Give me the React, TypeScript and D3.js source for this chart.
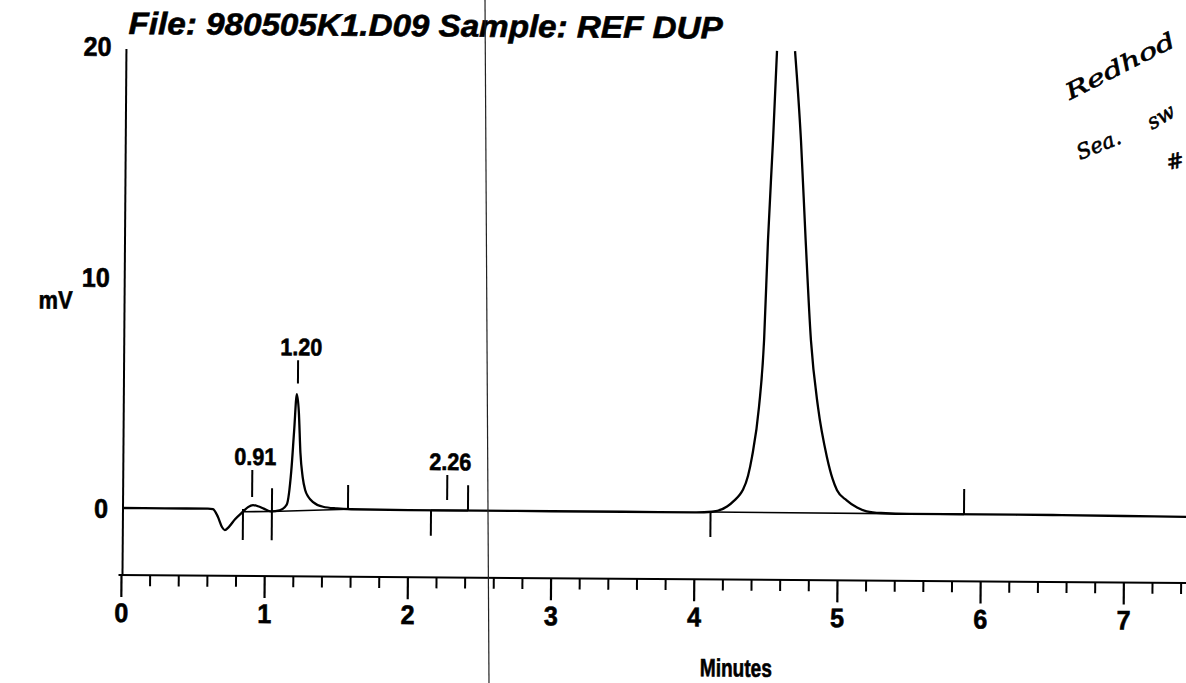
import React from 'react';
import * as d3 from 'd3';

// ---- data ----
const traceTime = [0, 0.3, 0.6, 0.635, 0.67, 0.7, 0.719, 0.745, 0.79, 0.845, 0.88, 0.915, 0.95, 0.99, 1.04, 1.1, 1.15, 1.18, 1.198, 1.215, 1.23, 1.243, 1.26, 1.278, 1.3, 1.334, 1.404, 1.5, 1.6, 2.0, 2.5, 3.0, 3.5, 4.0, 4.12, 4.225, 4.28, 4.31, 4.336, 4.37, 4.397, 4.443, 4.475, 4.497, 4.527, 4.55, 4.61, 4.676, 4.722, 4.76, 4.802, 4.855, 4.92, 4.96, 4.992, 5.06, 5.133, 5.2, 5.3, 5.5, 6.0, 6.5, 7.0, 7.44];
const traceMv: (number | null)[] = [0, 0, 0, -0.02, -0.35, -0.8, -0.92, -0.8, -0.45, -0.12, 0.08, 0.17, 0.12, 0.02, -0.1, -0.05, 0.2, 1.65, 3.4, 4.99, 4.2, 2.45, 1.4, 0.84, 0.55, 0.32, 0.12, 0.05, 0.02, 0, 0, 0, 0, 0, 0.03, 0.26, 0.55, 0.75, 1.0, 1.6, 2.43, 4.59, 7.49, 11.81, 16.14, 20, null, 20, 16.14, 11.81, 7.49, 4.59, 2.43, 1.5, 1.0, 0.57, 0.26, 0.1, 0.03, 0, 0, 0, -0.02, -0.04];

const xMajorTicks = [0, 1, 2, 3, 4, 5, 6, 7];
const yTickValues = [0, 10, 20];

const peakTimes = [0.908, 1.222, 2.27];
const peakLabels = ['0.91', '1.20', '2.26'];
const peakMarkLow = [0.52, 5.45, 0.45];
const peakMarkHigh = [1.69, 6.45, 1.53];

const eventTimes = [0.845, 1.047, 1.578, 2.158, 2.416, 4.11, 5.88];
const eventFrom = [0, 0.9, 1.07, 0, 1.1, 0, 1.1];
const eventTo = [-1.35, -1.35, 0, -1.1, 0, -1.06, 0];

const baseStartT = [0.845, 1.047, 2.158, 4.11];
const baseStartMv = [-0.12, -0.1, 0, 0.02];
const baseEndT = [1.047, 1.578, 2.416, 5.88];
const baseEndMv = [-0.1, 0.02, 0, 0];

const title = 'File: 980505K1.D09 Sample: REF DUP';

export default function App() {
  const W = 1186, H = 683;
  const x = d3.scaleLinear().domain([0, 7]).range([122, 122 + 7 * 143.2]);
  const y = d3.scaleLinear().domain([0, 20]).range([508, 46]);
  const axisY = 575;
  const tMax = x.invert(1195);

  const pts = traceTime.map((t, i) => ({ t, v: traceMv[i] }));
  const line = d3.line<{ t: number; v: number | null }>()
    .defined(d => d.v !== null)
    .x(d => x(d.t))
    .y(d => y(d.v as number))
    .curve(d3.curveMonotoneX);
  const path = line(pts) || '';

  const minor = d3.range(0, 38).map(i => i * 0.2).filter(t => t <= tMax && Math.abs(t - Math.round(t)) > 1e-6);
  const font = "'Liberation Sans', Arial, Helvetica, sans-serif";
  const heavy = { stroke: '#000', strokeWidth: 0.6 } as const;

  return (
    <svg width={W} height={H} style={{ position: 'absolute', left: 0, top: 0, background: '#fff' }}
      fontFamily={font}>
      <rect x={0} y={0} width={W} height={H} fill="#fff" />
      <g transform="rotate(0.43 121 508)">
        <text x={125} y={34} fontSize={31} fontWeight="bold" fontStyle="italic" textLength={594}
          lengthAdjust="spacingAndGlyphs" {...heavy}>{title}</text>
        {/* y axis */}
        <line x1={123} x2={123} y1={y(20) + 3} y2={axisY} stroke="#000" strokeWidth={2} />
        {yTickValues.map(v => {
          const s = String(v);
          return (
            <text key={v} x={108} y={y(v) + 10} fontSize={27} fontWeight="bold" textAnchor="end"
              textLength={s.length * 14} lengthAdjust="spacingAndGlyphs" {...heavy}>{s}</text>
          );
        })}
        <text x={37} y={309} fontSize={25} fontWeight="bold" textLength={34}
          lengthAdjust="spacingAndGlyphs" {...heavy}>mV</text>
        {/* x axis */}
        <line x1={119} x2={1200} y1={axisY} y2={axisY} stroke="#000" strokeWidth={2} />
        {xMajorTicks.map(t => (
          <g key={t}>
            <line x1={x(t)} x2={x(t)} y1={axisY} y2={axisY + 22} stroke="#000" strokeWidth={2.2} />
            <text x={x(t) - 7} y={axisY + 47} fontSize={27} fontWeight="bold"
              textLength={14} lengthAdjust="spacingAndGlyphs" {...heavy}>{t}</text>
          </g>
        ))}
        {minor.map(t => (
          <line key={t} x1={x(t)} x2={x(t)} y1={axisY} y2={axisY + 11} stroke="#000" strokeWidth={2} />
        ))}
        <text x={701} y={672} fontSize={25} fontWeight="bold" textLength={72}
          lengthAdjust="spacingAndGlyphs" {...heavy}>Minutes</text>
        {/* integration baselines */}
        {baseStartT.map((t, i) => (
          <line key={'b' + i} x1={x(t)} y1={y(baseStartMv[i])} x2={x(baseEndT[i])} y2={y(baseEndMv[i])}
            stroke="#000" strokeWidth={1.6} />
        ))}
        {/* trace */}
        <path d={path} fill="none" stroke="#000" strokeWidth={2.3} strokeLinejoin="round" />
        {/* event marks */}
        {eventTimes.map((t, i) => (
          <line key={'e' + i} x1={x(t)} x2={x(t)} y1={y(eventFrom[i])} y2={y(eventTo[i])} stroke="#000" strokeWidth={2} />
        ))}
        {/* peak labels */}
        {peakTimes.map((t, i) => (
          <g key={'p' + i}>
            <line x1={x(t)} x2={x(t)} y1={y(peakMarkLow[i])} y2={y(peakMarkHigh[i])} stroke="#000" strokeWidth={2} />
            <text x={x(t) + 3 - 21} y={y(peakMarkHigh[i]) - 5} fontSize={24} fontWeight="bold"
              textLength={42} lengthAdjust="spacingAndGlyphs" {...heavy}>{peakLabels[i]}</text>
          </g>
        ))}
      </g>
      {/* scan fold line */}
      <line x1={485} y1={0} x2={489} y2={H} stroke="#222" strokeWidth={1.2} />
      {/* handwritten note */}
      <g fontFamily="'DejaVu Serif', serif" fontStyle="italic" fill="#000" stroke="#000" strokeWidth={0.6}>
        <text transform="translate(1070,100) rotate(-27)" fontSize={22} textLength={120} lengthAdjust="spacingAndGlyphs">Redhod</text>
        <text transform="translate(1080,160) rotate(-22)" fontSize={21}>Sea.</text>
        <text transform="translate(1152,130) rotate(-30)" fontSize={21}>sw</text>
        <text transform="translate(1168,170) rotate(-12)" fontSize={21}>#</text>
      </g>
    </svg>
  );
}
